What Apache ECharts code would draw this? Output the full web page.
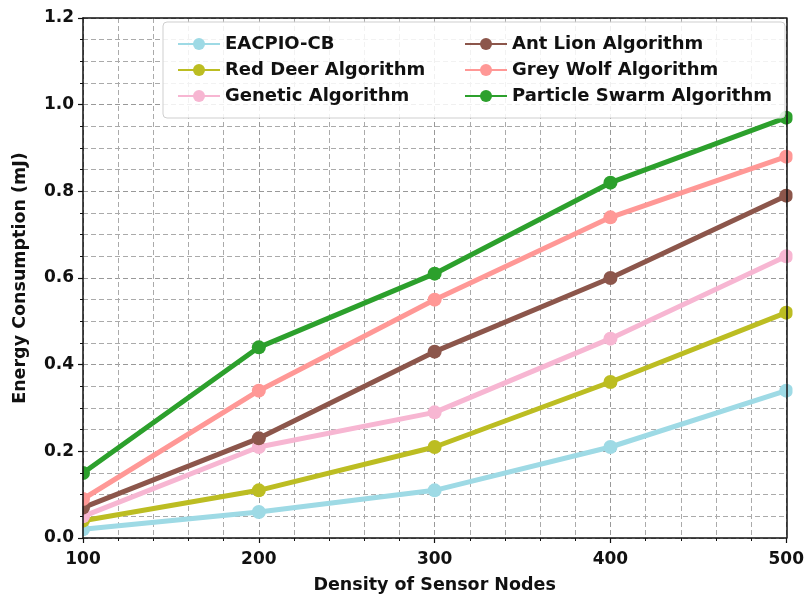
<!DOCTYPE html>
<html><head><meta charset="utf-8">
<script src="https://cdn.jsdelivr.net/npm/echarts@6/dist/echarts.min.js"></script>
<style>html,body{margin:0;padding:0;background:#fff}#c{width:807px;height:599px}</style>
</head><body><div id="c"></div>
<script>
const xValues = [100, 200, 300, 400, 500];
const seriesNames = ["EACPIO-CB", "Red Deer Algorithm", "Genetic Algorithm", "Ant Lion Algorithm", "Grey Wolf Algorithm", "Particle Swarm Algorithm"];
const eacpio = [0.02, 0.06, 0.11, 0.21, 0.34];
const redDeer = [0.04, 0.11, 0.21, 0.36, 0.52];
const genetic = [0.05, 0.21, 0.29, 0.46, 0.65];
const antLion = [0.07, 0.23, 0.43, 0.60, 0.79];
const greyWolf = [0.09, 0.34, 0.55, 0.74, 0.88];
const pso = [0.15, 0.44, 0.61, 0.82, 0.97];
const colors = ["#9edae5", "#bcbd22", "#f7b6d2", "#8c564b", "#ff9896", "#2ca02c"];
const allValues = [eacpio, redDeer, genetic, antLion, greyWolf, pso];

const font = "DejaVu Sans";
const G = { left: 83, right: 15, top: 18, bottom: 59 };
const W = 807, H = 599;
const chart = echarts.init(document.getElementById('c'));
const series = allValues.map((vals, i) => ({
  name: seriesNames[i],
  type: 'line',
  xAxisIndex: 0, yAxisIndex: 0,
  data: vals.map((v, j) => [xValues[j], v]),
  symbol: 'circle',
  symbolSize: 14,
  lineStyle: { width: 5, color: colors[i] },
  itemStyle: { color: colors[i] },
  color: colors[i],
  clip: false,
  z: 2
}));
const legendCommon = {
  orient: 'vertical', itemWidth: 42, itemHeight: 15, itemGap: 8,
  textStyle: { fontFamily: font, fontWeight: 'bold', fontSize: 18, color: '#111' },
  z: 40
};
const hidden = { axisLine: { show: false }, axisTick: { show: false }, axisLabel: { show: false } };
const gridLines = {
  splitLine: { show: true, lineStyle: { type: [5, 3], color: '#999', width: 1 } },
  minorSplitLine: { show: true, lineStyle: { type: [5, 3], color: '#aaa', width: 1 } }
};
const titleStyle = { fontFamily: font, fontWeight: 'bold', fontSize: 17.5, color: '#111' };
const labelStyle = { fontFamily: font, fontWeight: 'bold', fontSize: 17, color: '#111' };
chart.setOption({
  animation: false,
  grid: Object.assign({ show: false }, G),
  legend: [
    Object.assign({}, legendCommon, { data: seriesNames.slice(0, 3), left: 172, top: 30 }),
    Object.assign({}, legendCommon, { data: seriesNames.slice(3), left: 459, top: 30 })
  ],
  graphic: [
    { type: 'rect', shape: { x: 0, y: 0, width: G.left - 0.5, height: H }, style: { fill: '#fff' }, z: 10, silent: true },
    { type: 'rect', shape: { x: W - G.right + 0.5, y: 0, width: G.right, height: H }, style: { fill: '#fff' }, z: 10, silent: true },
    { type: 'rect', shape: { x: 0, y: 0, width: W, height: G.top - 0.5 }, style: { fill: '#fff' }, z: 10, silent: true },
    { type: 'rect', shape: { x: 0, y: H - G.bottom + 0.5, width: W, height: G.bottom }, style: { fill: '#fff' }, z: 10, silent: true },
    { type: 'rect', shape: { x: 163, y: 22, width: 622, height: 96, r: 4 },
      style: { fill: 'rgba(255,255,255,0.85)', stroke: '#cfcfcf', lineWidth: 1 }, z: 30, silent: true }
  ],
  xAxis: [
    Object.assign({ type: 'value', min: 100, max: 500, interval: 100, z: 0,
      minorTick: { show: false, splitNumber: 5 } }, hidden, gridLines),
    { type: 'value', min: 100, max: 500, interval: 100, z: 20, position: 'bottom',
      name: 'Density of Sensor Nodes', nameLocation: 'middle', nameGap: 38,
      nameTextStyle: titleStyle,
      axisLine: { show: true, onZero: false, lineStyle: { color: '#111', width: 1.5 } },
      axisTick: { show: true, length: 5, lineStyle: { color: '#111', width: 1.2 } },
      minorTick: { show: true, splitNumber: 5, length: 3, lineStyle: { color: '#111' } },
      axisLabel: Object.assign({ margin: 13 }, labelStyle),
      splitLine: { show: false } },
    { type: 'value', min: 100, max: 500, interval: 100, z: 20, position: 'top',
      axisLine: { show: true, onZero: false, lineStyle: { color: '#111', width: 1.5 } },
      axisTick: { show: false }, axisLabel: { show: false }, splitLine: { show: false } }
  ],
  yAxis: [
    Object.assign({ type: 'value', min: 0, max: 1.2, interval: 0.2, z: 0,
      minorTick: { show: false, splitNumber: 4 } }, hidden, gridLines),
    { type: 'value', min: 0, max: 1.2, interval: 0.2, z: 20, position: 'left',
      name: 'Energy Consumption (mJ)', nameLocation: 'middle', nameGap: 54,
      nameTextStyle: titleStyle,
      axisLine: { show: true, onZero: false, lineStyle: { color: '#111', width: 1.5 } },
      axisTick: { show: true, length: 5, lineStyle: { color: '#111', width: 1.2 } },
      minorTick: { show: true, splitNumber: 4, length: 3, lineStyle: { color: '#111' } },
      axisLabel: Object.assign({ margin: 9, formatter: v => v.toFixed(1) }, labelStyle),
      splitLine: { show: false } },
    { type: 'value', min: 0, max: 1.2, interval: 0.2, z: 20, position: 'right',
      axisLine: { show: true, onZero: false, lineStyle: { color: '#111', width: 1.5 } },
      axisTick: { show: false }, axisLabel: { show: false }, splitLine: { show: false } }
  ],
  series: series
});
</script></body></html>
